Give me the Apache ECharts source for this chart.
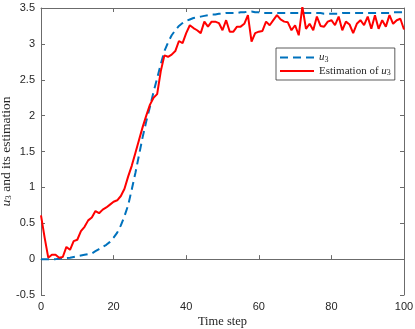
<!DOCTYPE html>
<html>
<head>
<meta charset="utf-8">
<script src="https://cdn.jsdelivr.net/npm/echarts@6/dist/echarts.min.js"></script>
<style>html,body{margin:0;padding:0;background:#fff;}#c{width:415px;height:329px;}</style>
</head>
<body>
<div id="c"></div>
<script>
var timeSteps = [];
for (var k = 0; k <= 100; k++) timeSteps.push(k);

var u3 = [0,0,0,0,0,0.005,0.01,0.015,0.02,0.03,
  0.04,0.05,0.06,0.07,0.08,0.11,0.14,0.17,0.20,0.24,
  0.30,0.37,0.47,0.60,0.75,0.97,1.20,1.45,1.70,1.92,
  2.12,2.33,2.52,2.72,2.90,3.02,3.12,3.19,3.25,3.29,
  3.32,3.34,3.36,3.37,3.38,3.39,3.40,3.41,3.41,3.42,
  3.42,3.43,3.43,3.43,3.43,3.44,3.44,3.45,3.45,3.44,
  3.44,3.43,3.43,3.43,3.43,3.43,3.43,3.43,3.43,3.43,
  3.43,3.43,3.43,3.43,3.43,3.43,3.43,3.43,3.42,3.42,
  3.42,3.42,3.42,3.43,3.43,3.43,3.43,3.43,3.43,3.43,
  3.43,3.43,3.43,3.43,3.43,3.43,3.43,3.44,3.44,3.44,3.44];

var estimation = [0.61,0.30,0.02,0.06,0.06,0.02,0.03,0.17,0.13,0.25,
  0.27,0.39,0.45,0.54,0.58,0.67,0.64,0.69,0.72,0.76,
  0.80,0.82,0.88,0.98,1.15,1.30,1.48,1.66,1.84,2.00,
  2.15,2.25,2.30,2.62,2.84,2.82,2.85,2.90,3.04,3.01,
  3.15,3.26,3.22,3.19,3.15,3.31,3.24,3.31,3.31,3.29,
  3.19,3.33,3.17,3.17,3.24,3.24,3.28,3.40,3.03,3.15,
  3.17,3.18,3.31,3.26,3.33,3.40,3.34,3.31,3.30,3.19,
  3.26,3.12,3.52,3.21,3.28,3.19,3.38,3.25,3.24,3.31,
  3.33,3.26,3.38,3.19,3.31,3.27,3.15,3.28,3.33,3.26,
  3.38,3.21,3.40,3.21,3.33,3.24,3.40,3.28,3.33,3.35,3.20];

var xTicks = [0, 20, 40, 60, 80, 100];
var yTicks = [-0.5, 0, 0.5, 1, 1.5, 2, 2.5, 3, 3.5];

function pairs(vals) {
  return vals.map(function (v, i) { return [timeSteps[i], v]; });
}

var axisColor = '#6b6b6b';
var labelColor = '#262626';
var serif = '"Liberation Serif", "DejaVu Serif", serif';
var sans = '"Liberation Sans", Arial, sans-serif';
function richFor(size) {
  return {
    i: { fontFamily: serif, fontStyle: 'italic', fontSize: size, color: labelColor },
    s: { fontFamily: serif, fontSize: Math.round(size * 0.7), color: labelColor, verticalAlign: 'bottom', padding: [4, 0, 0, 0] },
    t: { fontFamily: serif, fontSize: size, color: labelColor }
  };
}

var chart = echarts.init(document.getElementById('c'));
chart.setOption({
  animation: false,
  backgroundColor: '#fff',
  grid: { left: 41, right: 11, top: 8, bottom: 34, containLabel: false, outerBoundsMode: 'none' },
  legend: {
    data: ['u3', 'Estimation of u3'],
    orient: 'vertical',
    left: 276, top: 48,
    padding: [4, 4, 3, 3],
    itemGap: 2,
    itemWidth: 34,
    itemHeight: 10,
    backgroundColor: '#fff',
    borderColor: '#333',
    borderWidth: 0.8,
    borderRadius: 0,
    itemStyle: { opacity: 0 },
    formatter: function (name) {
      if (name === 'u3') return '{i|u}{s|3}';
      return '{t|Estimation of }{i|u}{s|3}';
    },
    textStyle: { rich: richFor(11), fontFamily: serif, fontSize: 11, color: labelColor }
  },
  xAxis: [{
    type: 'value', min: 0, max: 100, interval: 20,
    name: 'Time step', nameLocation: 'middle', nameGap: 20, nameMoveOverlap: false,
    nameTextStyle: { fontFamily: serif, fontSize: 12.5, color: labelColor },
    axisLine: { show: true, lineStyle: { color: axisColor, width: 1 } },
    axisTick: { show: true, inside: true, length: 4, lineStyle: { color: axisColor } },
    axisLabel: { color: labelColor, fontFamily: sans, fontSize: 11, margin: 6 },
    splitLine: { show: false }
  }, {
    type: 'value', min: 0, max: 100, interval: 20, position: 'top',
    axisLine: { show: true, onZero: false, lineStyle: { color: axisColor, width: 1 } },
    axisTick: { show: true, inside: true, length: 4, lineStyle: { color: axisColor } },
    axisLabel: { show: false },
    splitLine: { show: false }
  }],
  yAxis: [{
    type: 'value', min: -0.5, max: 3.5, interval: 0.5,
    name: '{i|u}{s|3}{t| and its estimation}', nameLocation: 'middle', nameGap: 28, nameMoveOverlap: false,
    nameTextStyle: { rich: richFor(13.5), fontFamily: serif, fontSize: 13.5, color: labelColor },
    axisLine: { show: true, onZero: false, lineStyle: { color: axisColor, width: 1 } },
    axisTick: { show: true, inside: true, length: 4, lineStyle: { color: axisColor } },
    axisLabel: { color: labelColor, fontFamily: sans, fontSize: 11, margin: 6 },
    splitLine: { show: false }
  }, {
    type: 'value', min: -0.5, max: 3.5, interval: 0.5, position: 'right',
    axisLine: { show: true, onZero: false, lineStyle: { color: axisColor, width: 1 } },
    axisTick: { show: true, inside: true, length: 4, lineStyle: { color: axisColor } },
    axisLabel: { show: false },
    splitLine: { show: false }
  }],
  series: [{
    name: 'u3', type: 'line', data: pairs(u3), showSymbol: false, symbol: 'none',
    lineStyle: { color: '#0072BD', width: 2, type: [8, 5] },
    itemStyle: { color: '#0072BD' }
  }, {
    name: 'Estimation of u3', type: 'line', data: pairs(estimation), showSymbol: false, symbol: 'none',
    lineStyle: { color: '#ff0000', width: 2 },
    itemStyle: { color: '#ff0000' }
  }]
});
</script>
</body>
</html>
